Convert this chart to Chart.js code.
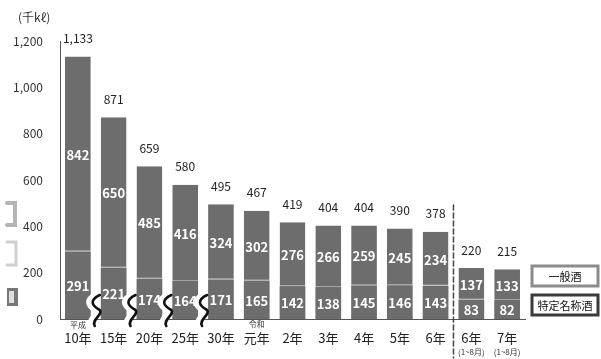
<!DOCTYPE html>
<html>
<head>
<meta charset="utf-8">
<script src="https://cdn.jsdelivr.net/npm/chart.js@4/dist/chart.umd.min.js"></script>
<style>
  body { margin: 0; background: #fff; }
  #wrap { width: 601px; height: 359px; position: relative; }
</style>
</head>
<body>
<div id="wrap"><canvas id="sakeChart"></canvas></div>
<script>
const years = ['10年', '15年', '20年', '25年', '30年', '元年', '2年', '3年', '4年', '5年', '6年', '6年', '7年'];
const tokutei = [291, 221, 174, 164, 171, 165, 142, 138, 145, 146, 143, 83, 82];
const ippan = [842, 650, 485, 416, 324, 302, 276, 266, 259, 245, 234, 137, 133];
const totals = [1133, 871, 659, 580, 495, 467, 419, 404, 404, 390, 378, 220, 215];
const yTicks = [0, 200, 400, 600, 800, 1000, 1200];

const FONT = '"Noto Sans CJK JP", "Noto Sans", sans-serif';
const BAR = '#6d6d6d';

// value labels inside the segments and totals on top
const labelPlugin = {
  id: 'labels',
  afterDatasetsDraw(chart) {
    const ctx = chart.ctx;
    ctx.save();
    ctx.textAlign = 'center';
    ctx.textBaseline = 'middle';
    chart.data.datasets.forEach((ds, di) => {
      const meta = chart.getDatasetMeta(di);
      meta.data.forEach((bar, i) => {
        const mid = (bar.y + bar.base) / 2;
        ctx.font = 'bold 13px ' + FONT;
        ctx.fillStyle = '#fff';
        ctx.fillText(ds.data[i], bar.x, mid + 1);
      });
    });
    const top = chart.getDatasetMeta(1);
    ctx.font = '12px ' + FONT;
    ctx.fillStyle = '#222';
    top.data.forEach((bar, i) => {
      ctx.fillText(totals[i].toLocaleString('en-US'), bar.x, bar.y - 18);
    });
    ctx.restore();
  }
};

// unit, era names, break marks, dashed divider, legend boxes
const decorPlugin = {
  id: 'decor',
  afterDraw(chart) {
    const ctx = chart.ctx;
    const x = chart.scales.x;
    const area = chart.chartArea;
    ctx.save();

    ctx.font = '12px ' + FONT;
    ctx.fillStyle = '#333';
    ctx.textAlign = 'left';
    ctx.textBaseline = 'middle';
    ctx.fillText('(千kℓ)', 18, 17);

    ctx.textAlign = 'center';
    ctx.font = '8px ' + FONT;
    ctx.fillStyle = '#333';
    ctx.fillText('平成', x.getPixelForValue(0), 325);
    ctx.fillText('令和', x.getPixelForValue(5), 324);
    ctx.fillText('(1~8月)', x.getPixelForValue(11), 352);
    ctx.fillText('(1~8月)', x.getPixelForValue(12), 352);

    // wavy break marks between the early bars
    const b = area.bottom;
    for (let i = 0; i < 4; i++) {
      const cx = (x.getPixelForValue(i) + x.getPixelForValue(i + 1)) / 2;
      const wave = (dx, w, color) => {
        ctx.beginPath();
        ctx.moveTo(cx + dx + 3, b - 24);
        ctx.bezierCurveTo(cx + dx - 7, b - 19, cx + dx - 6, b - 14, cx + dx + 3, b - 9);
        ctx.bezierCurveTo(cx + dx + 7, b - 5, cx + dx - 6, b + 1, cx + dx - 2, b + 7);
        ctx.lineWidth = w;
        ctx.lineCap = 'round';
        ctx.strokeStyle = color;
        ctx.stroke();
      };
      wave(-2, 7, '#fff');
      wave(1, 2.6, '#111');
    }

    // dashed divider before the partial-year bars
    const dx = (x.getPixelForValue(10) + x.getPixelForValue(11)) / 2;
    ctx.beginPath();
    ctx.setLineDash([5, 3]);
    ctx.moveTo(dx, 205);
    ctx.lineTo(dx, 358);
    ctx.lineWidth = 1.5;
    ctx.strokeStyle = '#444';
    ctx.stroke();
    ctx.setLineDash([]);

    // legend boxes
    const box = (y, h, border, text) => {
      ctx.fillStyle = '#fff';
      ctx.fillRect(532, y, 66, h);
      ctx.lineWidth = 3;
      ctx.strokeStyle = border;
      ctx.strokeRect(532, y, 66, h);
      ctx.fillStyle = '#111';
      ctx.font = '11px ' + FONT;
      ctx.fillText(text, 565, y + h / 2 + 1);
    };
    box(266, 20, '#8c8c8c', '一般酒');
    box(295, 20, '#3a3a3a', '特定名称酒');

    // edge brackets on the left margin
    ctx.lineWidth = 4;
    ctx.strokeStyle = '#b5b5b5';
    ctx.beginPath();
    ctx.moveTo(7, 203); ctx.lineTo(15, 203); ctx.lineTo(15, 225); ctx.lineTo(7, 225);
    ctx.stroke();
    ctx.lineWidth = 3;
    ctx.strokeStyle = '#d0d0d0';
    ctx.beginPath();
    ctx.moveTo(7, 242); ctx.lineTo(16, 242); ctx.lineTo(16, 265); ctx.lineTo(7, 265);
    ctx.stroke();
    ctx.fillStyle = '#777';
    ctx.fillRect(7, 288, 11, 18);
    ctx.fillStyle = '#ddd';
    ctx.fillRect(9, 291, 5, 12);

    ctx.restore();
  }
};

new Chart(document.getElementById('sakeChart'), {
  type: 'bar',
  data: {
    labels: years,
    datasets: [{
      label: '特定名称酒',
      data: tokutei,
      backgroundColor: BAR,
      borderWidth: 0,
      barPercentage: 0.72,
      categoryPercentage: 1
    }, {
      label: '一般酒',
      data: ippan,
      backgroundColor: BAR,
      borderColor: '#a4a4a4',
      borderWidth: { top: 0, left: 0, right: 0, bottom: 1 },
      borderSkipped: false,
      barPercentage: 0.72,
      categoryPercentage: 1
    }]
  },
  options: {
    responsive: true,
    maintainAspectRatio: false,
    animation: false,
    layout: { padding: { top: 41, right: 76, left: 0, bottom: 0 } },
    plugins: {
      legend: { display: false },
      tooltip: { enabled: false }
    },
    scales: {
      x: {
        stacked: true,
        grid: { display: false, drawTicks: false },
        border: { display: true, color: '#555', width: 1 },
        ticks: { color: '#222', font: { size: 13, family: FONT }, padding: 11, maxRotation: 0 },
        afterFit(scale) { scale.height = 40; }
      },
      y: {
        stacked: true,
        min: 0,
        max: 1200,
        afterBuildTicks(scale) { scale.ticks = yTicks.map(v => ({ value: v })); },
        grid: { display: false, drawTicks: false },
        border: { display: true, color: '#555', width: 1 },
        ticks: {
          color: '#333',
          font: { size: 12, family: FONT },
          padding: 17,
          callback: v => v.toLocaleString('en-US')
        },
        afterFit(scale) { scale.width = 60; }
      }
    }
  },
  plugins: [labelPlugin, decorPlugin]
});
</script>
</body>
</html>
